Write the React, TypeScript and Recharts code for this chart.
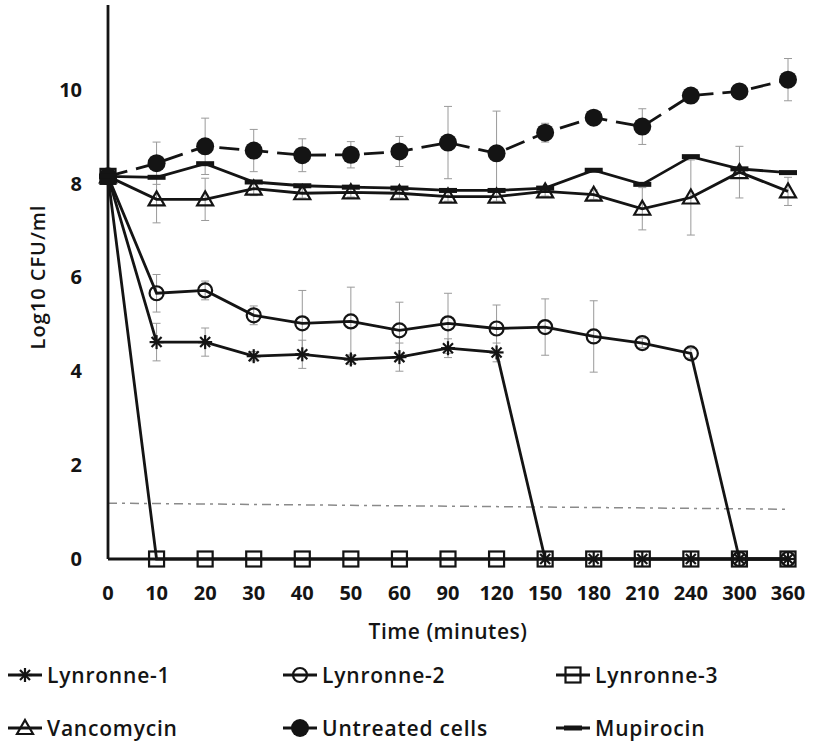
import { LineChart, Line, XAxis, YAxis, ErrorBar, ReferenceLine, Label } from 'recharts';

// time points (categories on x axis)
const timeLabels = ['0', '10', '20', '30', '40', '50', '60', '90', '120', '150', '180', '210', '240', '300', '360'];

// log10 CFU/ml per series
const lynronne1 = [8.15, 4.62, 4.62, 4.32, 4.36, 4.25, 4.3, 4.49, 4.4, 0, 0, 0, 0, 0, 0];
const lynronne2 = [8.15, 5.66, 5.72, 5.19, 5.02, 5.06, 4.87, 5.02, 4.91, 4.94, 4.74, 4.6, 4.38, 0, 0];
const lynronne3 = [8.15, 0, 0, 0, 0, 0, 0, 0, 0, 0, 0, 0, 0, 0, 0];
const vancomycin = [8.15, 7.66, 7.66, 7.89, 7.79, 7.81, 7.79, 7.72, 7.72, 7.83, 7.76, 7.46, 7.7, 8.24, 7.83];
const untreated = [8.15, 8.43, 8.79, 8.7, 8.6, 8.61, 8.68, 8.87, 8.64, 9.08, 9.4, 9.21, 9.87, 9.96, 10.21];
const mupirocin = [8.15, 8.13, 8.42, 8.03, 7.95, 7.92, 7.9, 7.85, 7.85, 7.9, 8.28, 7.98, 8.57, 8.31, 8.23];

// standard deviations (error bars)
const lynronne1Err = [null, 0.4, 0.3, 0.1, 0.3, 0.1, 0.3, 0.2, 0.2, null, null, null, null, null, null];
const lynronne2Err = [null, 0.4, 0.2, 0.2, 0.7, 0.73, 0.6, 0.64, 0.5, 0.6, 0.76, 0.1, 0.1, null, null];
const vancomycinErr = [null, 0.5, 0.45, 0.15, 0.1, 0.1, 0.1, 0.1, 0.1, 0.1, 0.1, 0.45, 0.8, 0.55, 0.3];
const untreatedErr = [null, 0.45, 0.6, 0.45, 0.35, 0.28, 0.32, 0.77, 0.9, 0.2, 0.15, 0.38, 0.15, 0.15, 0.45];

// detection limit (dash-dot line), start and end value
const detectionLimit = [1.19, 1.06];

const yTicks = [0, 2, 4, 6, 8, 10];

const data = timeLabels.map((t, i) => ({
  idx: i,
  time: t,
  l1: lynronne1[i],
  l1Err: lynronne1Err[i],
  l2: lynronne2[i],
  l2Err: lynronne2Err[i],
  l3: lynronne3[i],
  van: vancomycin[i],
  vanErr: vancomycinErr[i],
  unt: untreated[i],
  untErr: untreatedErr[i],
  mup: mupirocin[i],
}));

const INK = '#141414';
const FONT = '"Open Sans", sans-serif';

// marker shapes, shared by the plot and the legend
const markers: Record<string, (cx: number, cy: number) => JSX.Element> = {
  star: (cx, cy) => (
    <g stroke={INK} strokeWidth={2.2}>
      <line x1={cx - 7} y1={cy} x2={cx + 7} y2={cy} />
      <line x1={cx} y1={cy - 7} x2={cx} y2={cy + 7} />
      <line x1={cx - 5} y1={cy - 5} x2={cx + 5} y2={cy + 5} />
      <line x1={cx - 5} y1={cy + 5} x2={cx + 5} y2={cy - 5} />
    </g>
  ),
  circle: (cx, cy) => <circle cx={cx} cy={cy} r={7} fill="none" stroke={INK} strokeWidth={2.2} />,
  square: (cx, cy) => <rect x={cx - 7.5} y={cy - 7.5} width={15} height={15} fill="none" stroke={INK} strokeWidth={2.2} />,
  triangle: (cx, cy) => (
    <polygon points={`${cx},${cy - 8} ${cx + 8},${cy + 6} ${cx - 8},${cy + 6}`} fill="none" stroke={INK} strokeWidth={2.2} />
  ),
  dot: (cx, cy) => <circle cx={cx} cy={cy} r={9} fill={INK} />,
  dash: (cx, cy) => <rect x={cx - 9} y={cy - 2.5} width={18} height={5} fill={INK} />,
};

const makeDot = (kind: string) => (p: any) => {
  const { cx, cy, index } = p;
  if (cx == null || cy == null) return <g key={`${kind}-${index}`} />;
  return <g key={`${kind}-${index}`}>{markers[kind](cx, cy)}</g>;
};

const series = [
  { key: 'l1', err: 'l1Err', name: 'Lynronne-1', marker: 'star', dash: undefined },
  { key: 'l2', err: 'l2Err', name: 'Lynronne-2', marker: 'circle', dash: undefined },
  { key: 'l3', err: null, name: 'Lynronne-3', marker: 'square', dash: undefined },
  { key: 'van', err: 'vanErr', name: 'Vancomycin', marker: 'triangle', dash: undefined },
  { key: 'unt', err: 'untErr', name: 'Untreated cells', marker: 'dot', dash: '20 9' },
  { key: 'mup', err: null, name: 'Mupirocin', marker: 'dash', dash: undefined },
];

const YTitle = (props: any) => {
  const { viewBox } = props;
  const x = viewBox.x + 37;
  const y = viewBox.y + viewBox.height / 2 - 5;
  return (
    <text x={x} y={y} transform={`rotate(-90 ${x} ${y})`} textAnchor="middle" dominantBaseline="central"
      fontFamily={FONT} fontSize={20} fontWeight={600} letterSpacing={1} fill={INK}>
      Log10 CFU/ml
    </text>
  );
};

const XTitle = (props: any) => {
  const { viewBox } = props;
  return (
    <text x={viewBox.x + viewBox.width / 2} y={viewBox.y + 72} textAnchor="middle" dominantBaseline="central"
      fontFamily={FONT} fontSize={21} fontWeight={600} letterSpacing={0.5} fill={INK}>
      Time (minutes)
    </text>
  );
};

const legendCols = [7, 282, 555];
const legendRows = [20, 73];

function ChartLegend() {
  return (
    <div style={{ position: 'relative', width: 816, height: 86 }}>
      {series.map((s, i) => (
        <div key={s.key} style={{
          position: 'absolute', left: legendCols[i % 3], top: legendRows[Math.floor(i / 3)] - 14,
          height: 28, display: 'flex', alignItems: 'center',
        }}>
          <svg width={36} height={28}>
            <line x1={1} y1={14} x2={35} y2={14} stroke={INK} strokeWidth={2.8} />
            {markers[s.marker](18, 14)}
          </svg>
          <span style={{ marginLeft: 4, fontFamily: FONT, fontSize: 21, fontWeight: 600, letterSpacing: 0.8, color: INK, whiteSpace: 'nowrap' }}>{s.name}</span>
        </div>
      ))}
    </div>
  );
}

export default function App() {
  return (
    <div style={{ width: 816, height: 741, background: '#fff' }}>
      <style>{'body{margin:0}'}</style>
      <LineChart width={816} height={655} data={data} margin={{ top: 5, right: 28, left: 0, bottom: 0 }}>
        <XAxis
          type="number"
          dataKey="idx"
          domain={[0, 14]}
          ticks={timeLabels.map((_, i) => i)}
          tickFormatter={(v: number) => timeLabels[v]}
          interval={0}
          height={96}
          tickSize={0}
          tickMargin={27}
          axisLine={{ stroke: INK, strokeWidth: 2.8 }}
          tick={{ fontFamily: FONT, fontSize: 20, fontWeight: 700, fill: INK }}
        >
          <Label content={XTitle} />
        </XAxis>
        <YAxis
          domain={[0, 11.8]}
          ticks={yTicks}
          width={108}
          tickSize={0}
          tickMargin={26}
          axisLine={{ stroke: INK, strokeWidth: 2.8 }}
          tick={{ fontFamily: FONT, fontSize: 20, fontWeight: 700, fill: INK }}
        >
          <Label content={YTitle} />
        </YAxis>
        <ReferenceLine
          segment={[{ x: 0, y: detectionLimit[0] }, { x: 14, y: detectionLimit[1] }]}
          stroke="#8a8a8a"
          strokeWidth={1.5}
          strokeDasharray="9 5 3 5"
        />
        {series.map((s) => (
          <Line
            key={s.key}
            dataKey={s.key}
            name={s.name}
            type="linear"
            stroke={INK}
            strokeWidth={2.8}
            strokeDasharray={s.dash}
            dot={makeDot(s.marker)}
            activeDot={false}
            isAnimationActive={false}
          >
            {s.err && <ErrorBar dataKey={s.err} direction="y" width={4} stroke="#9a9a9a" strokeWidth={1} />}
          </Line>
        ))}
      </LineChart>
      <ChartLegend />
    </div>
  );
}
